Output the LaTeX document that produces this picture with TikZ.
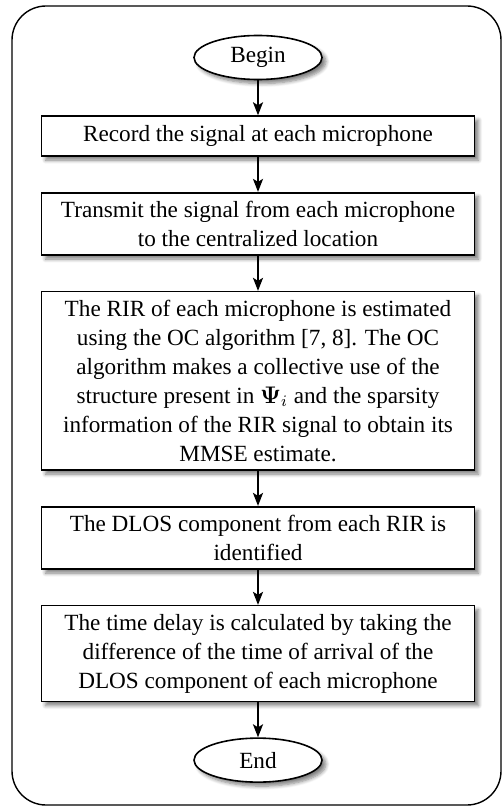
\documentclass[tikz,border=0pt]{standalone}
\usepackage{amsmath}
\usepackage{amssymb}
\usepackage{bm}
\usepackage{fontspec}
\setmainfont{Liberation Serif}
\usetikzlibrary{shapes.geometric, positioning, shadows.blur, arrows.meta}

\begin{document}
\begin{tikzpicture}[x=0.5pt, y=-0.5pt,
  font=\fontsize{11.6}{14.5}\selectfont,
  node distance=17.5pt,
  startstop/.style={ellipse, draw, line width=0.8pt, fill=white,
    minimum width=64pt, minimum height=22pt, inner sep=1pt,
    blur shadow={shadow xshift=2pt, shadow yshift=-2pt, shadow blur steps=6, shadow opacity=50}},
  process/.style={rectangle, draw, line width=0.8pt, fill=white,
    text width=207pt, align=flush center, minimum width=216.5pt, minimum height=20pt,
    inner xsep=4.75pt, inner ysep=4.2pt,
    blur shadow={shadow xshift=2pt, shadow yshift=-2pt, shadow blur steps=6, shadow opacity=50}},
  arrow/.style={-{Stealth[length=6.5pt, width=5pt, inset=1.5pt]}, line width=1pt}]
\useasboundingbox (0,0) rectangle (502,808);

% outer frame
\draw[line width=0.7pt, rounded corners=17pt] (12,6) rectangle (501,805);

% steps of the flow chart
\node[startstop] (begin) at (258,57.5) {Begin};
\node[process, below=17.5pt of begin] (record) {Record the signal at each microphone};
\node[process, below=17.5pt of record] (transmit) {Transmit the signal from each microphone\\ to the centralized location};
\node[process, below=17.5pt of transmit] (estimate) {The RIR of each microphone is estimated\\ using the OC algorithm [7, 8]. The OC\\ algorithm makes a collective use of the\\ structure present in $\boldsymbol{\Psi}_i$ and the sparsity\\ information of the RIR signal to obtain its\\ MMSE estimate.};
\node[process, below=17.5pt of estimate] (dlos) {The DLOS component from each RIR is\\ identified};
\node[process, below=17.5pt of dlos] (delay) {The time delay is calculated by taking the\\ difference of the time of arrival of the\\ DLOS component of each microphone};
\node[startstop, below=17.5pt of delay] (stop) {End};

% arrows
\draw[arrow] (begin) -- (record);
\draw[arrow] (record) -- (transmit);
\draw[arrow] (transmit) -- (estimate);
\draw[arrow] (estimate) -- (dlos);
\draw[arrow] (dlos) -- (delay);
\draw[arrow] (delay) -- (stop);
\end{tikzpicture}
\end{document}
